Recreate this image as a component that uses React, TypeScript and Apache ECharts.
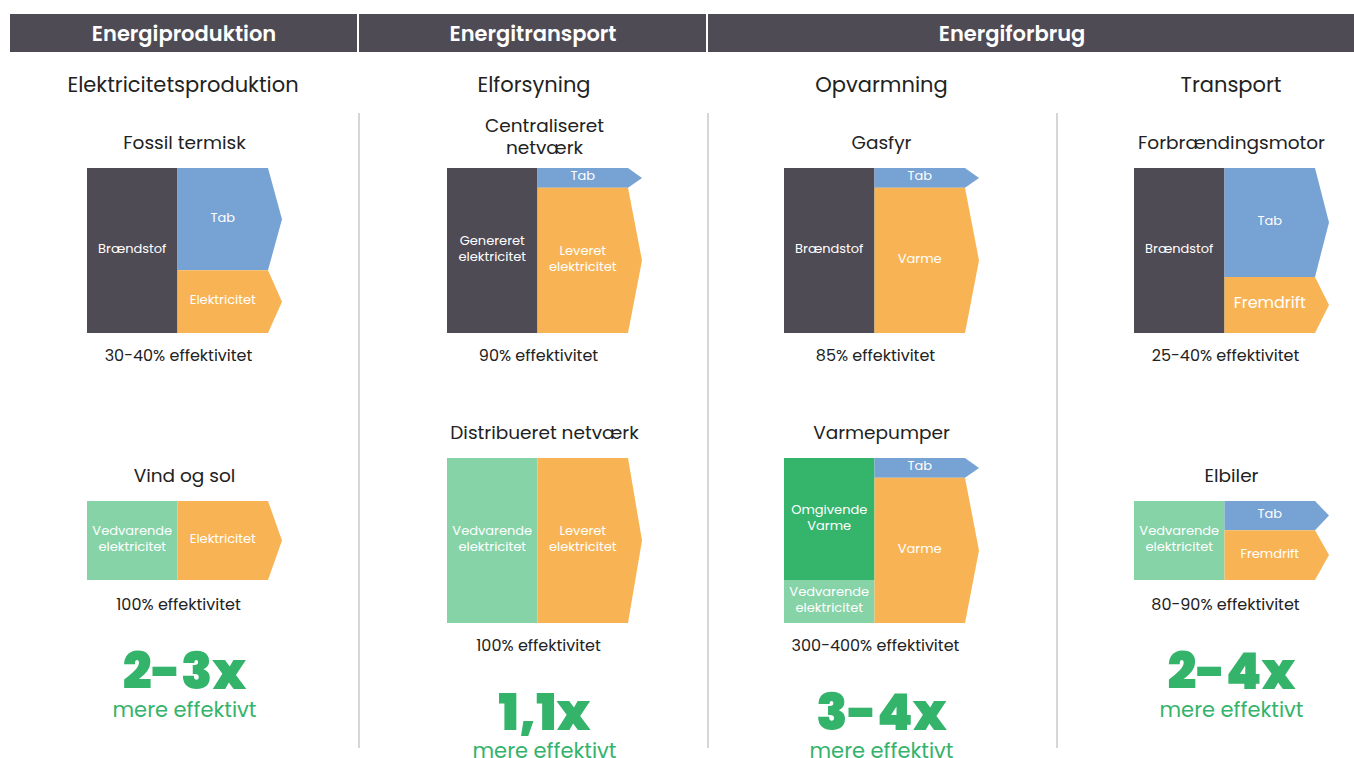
import React, { useEffect, useRef } from "react";
import * as echarts from "echarts";

// ---------- DATA ----------
const SECTION_TITLES = ["Energiproduktion", "Energitransport", "Energiforbrug"];
const COLUMN_TITLES = ["Elektricitetsproduktion", "Elforsyning", "Opvarmning", "Transport"];
const DIAGRAM_TITLES = [
  "Fossil termisk",
  "Vind og sol",
  "Centraliseret\nnetværk",
  "Distribueret netværk",
  "Gasfyr",
  "Varmepumper",
  "Forbrændingsmotor",
  "Elbiler",
];
const EFFICIENCY_LABELS = [
  "30-40% effektivitet",
  "100% effektivitet",
  "90% effektivitet",
  "100% effektivitet",
  "85% effektivitet",
  "300-400% effektivitet",
  "25-40% effektivitet",
  "80-90% effektivitet",
];
const INPUT_LABELS = [
  ["Brændstof"],
  ["Vedvarende\nelektricitet"],
  ["Genereret\nelektricitet"],
  ["Vedvarende\nelektricitet"],
  ["Brændstof"],
  ["Omgivende\nVarme", "Vedvarende\nelektricitet"],
  ["Brændstof"],
  ["Vedvarende\nelektricitet"],
];
const INPUT_VALUES = [[100], [100], [100], [100], [100], [74, 26], [100], [100]];
const INPUT_KINDS = [
  ["fuel"],
  ["renew"],
  ["fuel"],
  ["renew"],
  ["fuel"],
  ["ambient", "renew"],
  ["fuel"],
  ["renew"],
];
const OUTPUT_LABELS = [
  ["Tab", "Elektricitet"],
  ["Elektricitet"],
  ["Tab", "Leveret\nelektricitet"],
  ["Leveret\nelektricitet"],
  ["Tab", "Varme"],
  ["Tab", "Varme"],
  ["Tab", "Fremdrift"],
  ["Tab", "Fremdrift"],
];
const OUTPUT_VALUES = [[62, 38], [100], [12, 88], [100], [12, 88], [12, 88], [66, 34], [37, 63]];
const OUTPUT_KINDS = [
  ["loss", "useful"],
  ["useful"],
  ["loss", "useful"],
  ["useful"],
  ["loss", "useful"],
  ["loss", "useful"],
  ["loss", "useful"],
  ["loss", "useful"],
];
const MULTIPLIERS = ["2-3x", "1,1x", "3-4x", "2-4x"];
const MULTIPLIER_NOTE = "mere effektivt";

// ---------- LAYOUT / STYLE ----------
const FONT = "Poppins, Inter, 'Open Sans', sans-serif";
const COLORS: Record<string, string> = {
  fuel: "#4f4b55",
  renew: "#86d3a7",
  ambient: "#35b46c",
  loss: "#77a2d4",
  useful: "#f8b454",
};
const GREEN_TEXT = "#34b36b";
const DARK_TEXT = "#222222";
const BOX_W = 181;
const TIP = 14;
// left, top, height for each diagram
const BOXES = [
  [87, 168, 165],
  [87, 501, 79],
  [447, 168, 165],
  [447, 458, 165],
  [784, 168, 165],
  [784, 458, 165],
  [1134, 168, 165],
  [1134, 501, 79],
];
const SECTION_CENTERS = [184, 533, 1012];
const COLUMN_CENTERS = [183, 534, 881.5, 1231];

export default function App() {
  const ref = useRef<HTMLDivElement>(null);

  useEffect(() => {
    if (!ref.current) return;
    const chart = echarts.init(ref.current, null, { renderer: "svg" });

    const grids: any[] = [];
    const xAxes: any[] = [];
    const yAxes: any[] = [];
    const series: any[] = [];
    const graphics: any[] = [];

    // header
    graphics.push({ type: "rect", shape: { x: 10, y: 14, width: 1344, height: 38 }, style: { fill: "#4f4b55" } });
    [357, 706].forEach((x) =>
      graphics.push({ type: "rect", shape: { x, y: 14, width: 2, height: 38 }, style: { fill: "#ffffff" } })
    );
    SECTION_TITLES.forEach((t, i) =>
      graphics.push({
        type: "text",
        style: {
          text: t,
          x: SECTION_CENTERS[i],
          y: 33,
          align: "center",
          verticalAlign: "middle",
          fill: "#ffffff",
          font: `600 21px ${FONT}`,
        },
      })
    );
    // separators
    [359, 708, 1057].forEach((x) =>
      graphics.push({
        type: "line",
        shape: { x1: x, y1: 113, x2: x, y2: 748 },
        style: { stroke: "#c9c9c9", lineWidth: 1.5 },
      })
    );
    COLUMN_TITLES.forEach((t, i) =>
      graphics.push({
        type: "text",
        style: {
          text: t,
          x: COLUMN_CENTERS[i],
          y: 84,
          align: "center",
          verticalAlign: "middle",
          fill: DARK_TEXT,
          font: `21px ${FONT}`,
        },
      })
    );

    BOXES.forEach((b, i) => {
      const [left, top, h] = b;
      const cx = left + (BOX_W + TIP) / 2;
      grids.push({ left, top, width: BOX_W, height: h, containLabel: false });
      xAxes.push({ type: "value", gridIndex: i, min: 0, max: 2, show: false });
      yAxes.push({ type: "value", gridIndex: i, min: 0, max: 100, inverse: true, show: false });

      const items: any[] = [];
      let acc = 0;
      INPUT_VALUES[i].forEach((v, k) => {
        items.push({ col: 0, start: acc, end: acc + v, label: INPUT_LABELS[i][k], kind: INPUT_KINDS[i][k] });
        acc += v;
      });
      acc = 0;
      OUTPUT_VALUES[i].forEach((v, k) => {
        items.push({ col: 1, start: acc, end: acc + v, label: OUTPUT_LABELS[i][k], kind: OUTPUT_KINDS[i][k] });
        acc += v;
      });

      series.push({
        type: "custom",
        coordinateSystem: "cartesian2d",
        xAxisIndex: i,
        yAxisIndex: i,
        clip: false,
        silent: true,
        data: items.map((it) => [it.col, it.start, it.end]),
        encode: { x: 0, y: [1, 2] },
        renderItem: (params: any, api: any) => {
          const it = items[params.dataIndex];
          const p0 = api.coord([it.col, it.start]);
          const p1 = api.coord([it.col + 1, it.end]);
          const x0 = p0[0], y0 = p0[1], x1 = p1[0], y1 = p1[1];
          const fill = COLORS[it.kind];
          const segH = y1 - y0;
          const big = it.col === 1 && it.label === "Fremdrift" && segH > 50;
          const shape =
            it.col === 0
              ? { type: "rect", shape: { x: x0, y: y0, width: x1 - x0, height: y1 - y0 }, style: { fill } }
              : {
                  type: "polygon",
                  shape: {
                    points: [
                      [x0, y0],
                      [x1, y0],
                      [x1 + TIP, (y0 + y1) / 2],
                      [x1, y1],
                      [x0, y1],
                    ],
                  },
                  style: { fill },
                };
          return {
            type: "group",
            children: [
              shape,
              {
                type: "text",
                style: {
                  text: it.label,
                  x: (x0 + x1) / 2,
                  y: (y0 + y1) / 2 - 2,
                  align: "center",
                  verticalAlign: "middle",
                  fill: "#ffffff",
                  font: `${big ? 16 : 13}px ${FONT}`,
                  lineHeight: 16,
                },
              },
            ],
          };
        },
      });

      const lines = DIAGRAM_TITLES[i].split("\n").length;
      graphics.push({
        type: "text",
        style: {
          text: DIAGRAM_TITLES[i],
          x: cx,
          y: top - 25.5 - (lines - 1) * 6,
          align: "center",
          verticalAlign: "middle",
          fill: DARK_TEXT,
          font: `18.5px ${FONT}`,
          lineHeight: 22,
        },
      });
      const effY = top + h + 22 + (h < 100 ? 2 : 0);
      graphics.push({
        type: "text",
        style: {
          text: EFFICIENCY_LABELS[i],
          x: cx - 6,
          y: effY,
          align: "center",
          verticalAlign: "middle",
          fill: DARK_TEXT,
          font: `16px ${FONT}`,
        },
      });
      if (i % 2 === 1) {
        const col = (i - 1) / 2;
        graphics.push({
          type: "text",
          style: {
            text: MULTIPLIERS[col],
            x: cx,
            y: effY + 67,
            align: "center",
            verticalAlign: "middle",
            fill: GREEN_TEXT,
            font: `900 51px ${FONT}`,
          },
        });
        graphics.push({
          type: "text",
          style: {
            text: MULTIPLIER_NOTE,
            x: cx,
            y: effY + 105,
            align: "center",
            verticalAlign: "middle",
            fill: GREEN_TEXT,
            font: `21px ${FONT}`,
          },
        });
      }
    });

    chart.setOption({
      animation: false,
      backgroundColor: "#ffffff",
      grid: grids,
      xAxis: xAxes,
      yAxis: yAxes,
      series,
      graphic: { elements: graphics },
    });

    return () => chart.dispose();
  }, []);

  return (
    <div
      ref={ref}
      style={{ position: "fixed", left: 0, top: 0, width: 1354, height: 758, background: "#fff" }}
    />
  );
}
